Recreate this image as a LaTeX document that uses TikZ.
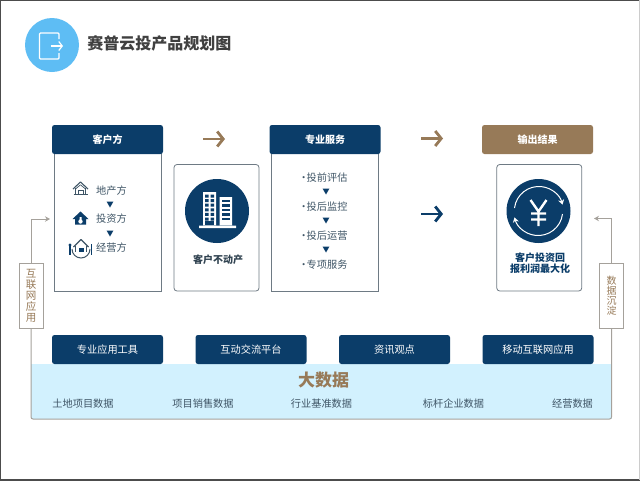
\documentclass[tikz,border=0pt]{standalone}
\usepackage{fontspec}
\setmainfont{Noto Sans CJK SC}
\usetikzlibrary{arrows.meta,positioning,shapes.geometric}
\definecolor{navy}{HTML}{0B3D69}
\definecolor{tan}{HTML}{977A58}
\definecolor{sky}{HTML}{5EBDF4}
\definecolor{pale}{HTML}{D2F1FE}
\definecolor{frameg}{HTML}{6E7A84}
\definecolor{lineg}{HTML}{A5A19B}
\definecolor{ink}{HTML}{3F5566}
\begin{document}
\begin{tikzpicture}[
            x = 1pt, y = -1pt,
            hdr/.style = {draw = none, fill = navy, rounded corners = 2.5pt, text = white, font = \fontsize{10}{10}\selectfont\bfseries,
              minimum width = 111pt, minimum height = 29pt, inner sep = 0pt},
            body/.style = {draw = frameg, line width = .8pt, fill = white, minimum width = 107.5pt, minimum height = 138pt, inner sep = 0pt},
            card/.style = {draw = frameg, line width = .8pt, fill = white, rounded corners = 3pt, minimum width = 85pt, minimum height = 126.5pt, inner sep = 0pt},
            tag/.style = {draw = lineg, line width = .7pt, fill = white, text = tan, align = center, font = \fontsize{10.5}{11}\selectfont,
              minimum width = 24pt, minimum height = 65pt, inner sep = 0pt},
            itm/.style = {text = ink, font = \fontsize{10.2}{10.2}\selectfont, inner sep = 0pt},
            dat/.style = {text = ink, font = \fontsize{10.2}{10.2}\selectfont, inner sep = 0pt},
            tri/.style = {fill = navy, inner sep = 0pt, minimum size = 8pt, regular polygon, regular polygon sides = 3, shape border rotate = 180},
            bigarr/.style = {line width = 2.8pt, -{Straight Barb[length = 6pt, width = 15pt, line width = 2.8pt]}},
            lnk/.style = {lineg, line width = 1pt, -{Stealth[length = 5pt, width = 5.5pt]}},
          ]
          \useasboundingbox (0,0) rectangle (640,480);
          % page edge
          \draw[black!70, line width = 1.5pt] (640,0) -- (0,0) -- (0,480) -- (640,480);
          \draw[black!20, line width = .8pt] (639.6,0) -- (639.6,480);

          % title
          \node[circle, fill = sky, minimum size = 54pt, inner sep = 0pt] (logo) at (52,45) {};
          \draw[white, line width = 1.2pt, rounded corners = 1pt] (59,39) -- (59,33) -- (39.5,33) -- (39.5,59) -- (59,59) -- (59,53);
          \draw[white, line width = 1.2pt, -{Straight Barb[length = 3.5pt, width = 9pt]}] (50.5,46) -- (63,46);
          \node[right = 8pt of logo, yshift = 2pt, text = black!75, font = \fontsize{16}{16}\selectfont\bfseries, inner sep = 0pt] (ttl) {赛普云投产品规划图};

          % columns
          \node[body] (bkh) at (107.75,222) {};
          \node[hdr] (hkh) at (107.5,139.5) {客户方};
          \node[body] (bzy) at (324.75,222) {};
          \node[hdr] (hzy) at (325,139.5) {专业服务};
          \node[hdr, fill = tan] (hsc) at (537.5,139.5) {输出结果};
          \node[card] (cbd) at (216.5,227.75) {};
          \node[card] (csy) at (539.25,227.75) {};

          % left list
          \node[itm, anchor = west] (a1) at (96,190.8) {地产方};
          \node[itm, anchor = west] (a2) at (96,218.8) {投资方};
          \node[itm, anchor = west] (a3) at (96,247.8) {经营方};
          \node[tri] (t1) at (110,203.5) {};
          \node[tri] (t2) at (110,232.5) {};
          % land icon
          \draw[ink, line width = 1.1pt, line join = round] (73,189) -- (80.5,182) -- (88,189);
          \draw[ink, line width = .7pt, line join = round] (75.5,189) -- (80.5,184.8) -- (85.5,189);
          \draw[ink, line width = 1pt] (75.5,187.5) -- (75.5,194) -- (85.5,194) -- (85.5,187.5);
          \draw[ink, line width = .8pt] (78,190) rectangle (83,194) (73.5,194.5) -- (87.5,194.5);
          % invest icon
          \fill[navy] (72.5,219) -- (80.5,211.5) -- (88.5,219) -- (86,219) -- (86,224.5) -- (75,224.5) -- (75,219) -- cycle;
          \fill[white] (80.5,221.5) circle (2.2pt) (79.5,217) rectangle (81.5,220);
          % manage icon
          \draw[ink, line width = 1.1pt, line join = round] (73.5,247) -- (81,239.5) -- (88.5,247);
          \draw[ink, line width = 1pt] (75.5,246) -- (75.5,251.5) (86.5,246) -- (86.5,251.5);
          \fill[navy] (78.5,247.5) rectangle (83.5,252);
          \draw[ink, line width = 1pt] (72,249) arc[start angle = 180, end angle = 360, radius = 9pt];
          \draw[navy, line width = 1.1pt] (70,245) -- (70,255) (91.5,244) -- (91.5,255);
          \fill[navy] (70,245) circle (1.6pt);

          % middle list
          \node[itm, anchor = west] (b1) at (298.3,177.8) {•\kern-2pt 投前评估};
          \node[itm, anchor = west] (b2) at (298.3,206.8) {•\kern-2pt 投后监控};
          \node[itm, anchor = west] (b3) at (298.3,235.8) {•\kern-2pt 投后运营};
          \node[itm, anchor = west] (b4) at (298.3,264.8) {•\kern-2pt 专项服务};
          \node[tri] (t3) at (326,190.5) {};
          \node[tri] (t4) at (326,219.5) {};
          \node[tri] (t5) at (326,248.5) {};

          % building
          \node[circle, fill = navy, minimum size = 64pt, inner sep = 0pt] (cir1) at (217,211) {};
          \fill[white] (203,192) rectangle (216,225) (219.5,197) rectangle (232,225) (199,225.5) rectangle (236,228);
          \foreach \r in {0,...,5} {
            \fill[navy] (205,194.5+4.6*\r) rectangle (208.5,197.5+4.6*\r) (210.5,194.5+4.6*\r) rectangle (214,197.5+4.6*\r);
          }
          \fill[navy] (205,221) rectangle (214,225);
          \foreach \r in {0,...,4} {
            \fill[navy] (221.5,199.5+4.6*\r) rectangle (230,202+4.6*\r);
          }
          \node[font = \fontsize{10}{10}\selectfont\bfseries, text = ink!80!black, inner sep = 0pt, below = 11pt of cir1, xshift = 1pt] (lbd) {客户不动产};

          % yen
          \node[circle, fill = navy, minimum size = 64pt, inner sep = 0pt] (cir2) at (538.5,211) {};
          \draw[white, line width = 2.4pt] (530.5,200) -- (538.5,211.5) -- (546.5,200) (538.5,211.5) -- (538.5,226) (531,213.5) -- (546,213.5) (531,219.5) -- (546,219.5);
          \draw[white, line width = 1pt, -{Stealth[length = 5pt, width = 6pt]}] (514.5,208) arc[start angle = 173, end angle = 15, radius = 24.5pt];
          \draw[white, line width = 1pt, -{Stealth[length = 5pt, width = 6pt]}] (562.5,214) arc[start angle = -7, end angle = -165, radius = 24.5pt];
          \node[font = \fontsize{10}{11}\selectfont\bfseries, text = navy, align = center, inner sep = 0pt, below = 9.5pt of cir2, xshift = 1.5pt] (lsy) {客户投资回\\报利润最大化};

          % arrows
          \coordinate (p1) at (203,139);
          \coordinate (p2) at (225,139);
          \coordinate (q1) at (421,138.5);
          \coordinate (q2) at (443,138.5);
          \coordinate (r1) at (421,214);
          \coordinate (r2) at (443,214);
          \draw[bigarr, tan] (p1) -- (p2);
          \draw[bigarr, tan] (q1) -- (q2);
          \draw[bigarr, navy] (r1) -- (r2);

          % panel
          \path[fill = pale] (31,364) rectangle (612,419);
          \node[tag] (tl) at (31,295.5) {互\\联\\网\\应\\用};
          \node[tag, font = \fontsize{10}{10}\selectfont] (tr) at (611.5,295.5) {数\\据\\沉\\淀};
          \draw[lineg, line width = 1pt, rounded corners = 2pt] (tl.south) -- (31,419) -- (611.5,419) -- (tr.south);
          \coordinate (el) at (50,219);
          \coordinate (er) at (594,218.5);
          \draw[lnk] (tl.north) |- (el);
          \draw[lnk] (tr.north) |- (er);

          % tools
          \node[hdr] (k1) at (107.5,349.5) {\fontsize{10.2}{10.2}\selectfont\mdseries 专业应用工具};
          \node[hdr] (k2) at (251,349.5) {\fontsize{10.2}{10.2}\selectfont\mdseries 互动交流平台};
          \node[hdr] (k3) at (394.5,349.5) {\fontsize{10.2}{10.2}\selectfont\mdseries 资讯观点};
          \node[hdr] (k4) at (538,349.5) {\fontsize{10.2}{10.2}\selectfont\mdseries 移动互联网应用};

          % data
          \node[text = tan, font = \fontsize{17}{17}\selectfont\bfseries, inner sep = 0pt] (dsj) at (323.5,380) {大数据};
          \node[dat] (d1) at (83,404) {土地项目数据};
          \node[dat] (d2) at (203,404) {项目销售数据};
          \node[dat] (d3) at (321.5,404) {行业基准数据};
          \node[dat] (d4) at (453.5,404) {标杆企业数据};
          \node[dat] (d5) at (572.5,404) {经营数据};
        \end{tikzpicture}
\end{document}
